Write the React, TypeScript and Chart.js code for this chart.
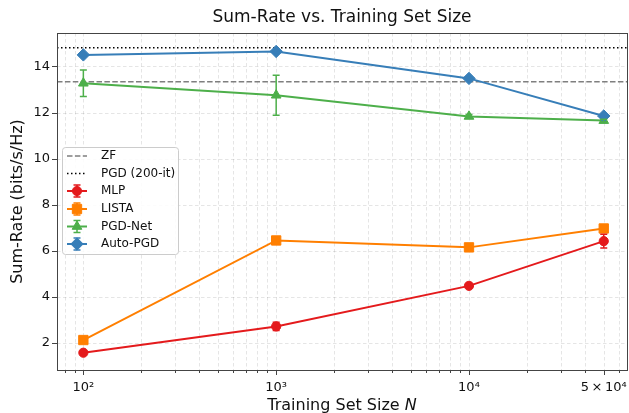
import React, { useEffect, useRef } from 'react';
import { Chart, registerables } from 'chart.js';
import { drawPoint } from 'chart.js/helpers';

Chart.register(...registerables);

// ---- data ----
const trainSizes = [100, 1000, 10000, 50000];
const mlpRate = [1.58, 2.72, 4.48, 6.42];
const mlpErr = [0.05, 0.18, 0.06, 0.3];
const listaRate = [2.13, 6.45, 6.15, 6.97];
const listaErr = [0.05, 0.08, 0.08, 0.1];
const pgdNetRate = [13.27, 12.75, 11.83, 11.65];
const pgdNetErr = [0.58, 0.87, 0.08, 0.06];
const autoPgdRate = [14.5, 14.65, 13.48, 11.85];
const autoPgdErr = [0.05, 0.05, 0.05, 0.05];
const zfRate = 13.33;
const pgd200Rate = 14.81;

const xMin = 73;
const xMax = 66000;
const yMin = 0.83;
const yMax = 15.45;
const yTicks = [2, 4, 6, 8, 10, 12, 14];
const xMajorTicks = [100, 1000, 10000, 50000];
const xMajorLabels = ['10²', '10³', '10⁴', '5\u2009×\u200910⁴'];
const xMinorTicks = [
  80, 90, 200, 300, 400, 500, 600, 700, 800, 900,
  2000, 3000, 4000, 5000, 6000, 7000, 8000, 9000,
  20000, 30000, 40000, 60000,
];

const FONT = "'DejaVu Sans', sans-serif";

const C_MLP = '#e41a1c';
const C_LISTA = '#ff7f00';
const C_PGDNET = '#4daf4a';
const C_AUTO = '#377eb8';

interface SeriesInfo {
  label: string;
  color: string;
  style: string;
  radius: number;
  values: number[];
  errs: number[];
}

const series: SeriesInfo[] = [
  { label: 'MLP', color: C_MLP, style: 'circle', radius: 4.6, values: mlpRate, errs: mlpErr },
  { label: 'LISTA', color: C_LISTA, style: 'rect', radius: 6.6, values: listaRate, errs: listaErr },
  { label: 'PGD-Net', color: C_PGDNET, style: 'triangle', radius: 5.6, values: pgdNetRate, errs: pgdNetErr },
  { label: 'Auto-PGD', color: C_AUTO, style: 'rectRot', radius: 6.2, values: autoPgdRate, errs: autoPgdErr },
];

const gridPlugin = {
  id: 'customGrid',
  beforeDatasetsDraw(chart: any) {
    const { ctx, chartArea: a, scales } = chart;
    const xs = scales.x;
    const ys = scales.y;
    ctx.save();
    ctx.lineWidth = 0.8;
    ctx.setLineDash([3.5, 2.5]);
    ctx.strokeStyle = 'rgba(0,0,0,0.13)';
    [...xMajorTicks, ...xMinorTicks].forEach((v) => {
      const px = Math.round(xs.getPixelForValue(v)) + 0.5;
      ctx.beginPath();
      ctx.moveTo(px, a.top);
      ctx.lineTo(px, a.bottom);
      ctx.stroke();
    });
    yTicks.forEach((v) => {
      const py = Math.round(ys.getPixelForValue(v)) + 0.5;
      ctx.beginPath();
      ctx.moveTo(a.left, py);
      ctx.lineTo(a.right, py);
      ctx.stroke();
    });
    ctx.restore();
  },
  afterDatasetsDraw(chart: any) {
    const { ctx, chartArea: a, scales } = chart;
    const xs = scales.x;
    const ys = scales.y;
    ctx.save();
    // error bars
    series.forEach((s) => {
      ctx.strokeStyle = s.color;
      ctx.lineWidth = 1.5;
      s.values.forEach((v, i) => {
        const px = xs.getPixelForValue(trainSizes[i]);
        const y1 = ys.getPixelForValue(v - s.errs[i]);
        const y2 = ys.getPixelForValue(v + s.errs[i]);
        ctx.beginPath();
        ctx.moveTo(px, y1);
        ctx.lineTo(px, y2);
        ctx.moveTo(px - 3.5, y1);
        ctx.lineTo(px + 3.5, y1);
        ctx.moveTo(px - 3.5, y2);
        ctx.lineTo(px + 3.5, y2);
        ctx.stroke();
      });
    });
    // frame
    ctx.strokeStyle = '#444';
    ctx.lineWidth = 1;
    ctx.strokeRect(Math.round(a.left) + 0.5, Math.round(a.top) + 0.5, Math.round(a.right - a.left), Math.round(a.bottom - a.top));
    // tick marks
    ctx.beginPath();
    xMajorTicks.forEach((v) => {
      const px = Math.round(xs.getPixelForValue(v)) + 0.5;
      ctx.moveTo(px, a.bottom);
      ctx.lineTo(px, a.bottom + 5);
    });
    xMinorTicks.forEach((v) => {
      const px = Math.round(xs.getPixelForValue(v)) + 0.5;
      ctx.moveTo(px, a.bottom);
      ctx.lineTo(px, a.bottom + 3);
    });
    yTicks.forEach((v) => {
      const py = Math.round(ys.getPixelForValue(v)) + 0.5;
      ctx.moveTo(a.left, py);
      ctx.lineTo(a.left - 5, py);
    });
    ctx.stroke();
    ctx.restore();
  },
  afterDraw(chart: any) {
    const { ctx, chartArea: a } = chart;
    const cx = (a.left + a.right) / 2;
    ctx.save();
    ctx.fillStyle = '#111';
    // title
    ctx.font = `17px ${FONT}`;
    ctx.textAlign = 'center';
    ctx.textBaseline = 'middle';
    ctx.fillText('Sum-Rate vs. Training Set Size', cx, 18);
    // x label
    ctx.font = `16px ${FONT}`;
    const t1 = 'Training Set Size ';
    const w1 = ctx.measureText(t1).width;
    ctx.font = `italic 16px ${FONT}`;
    const w2 = ctx.measureText('N').width;
    const start = cx - (w1 + w2) / 2;
    ctx.textAlign = 'left';
    ctx.font = `16px ${FONT}`;
    ctx.fillText(t1, start, 406);
    ctx.font = `italic 16px ${FONT}`;
    ctx.fillText('N', start + w1, 406);
    // y label
    ctx.save();
    ctx.translate(18, (a.top + a.bottom) / 2);
    ctx.rotate(-Math.PI / 2);
    ctx.textAlign = 'center';
    ctx.font = `16px ${FONT}`;
    ctx.fillText('Sum-Rate (bits/s/Hz)', 0, 0);
    ctx.restore();

    // legend
    const lx = 62.5, ly = 147.5, lw = 116, lh = 107;
    ctx.fillStyle = 'rgba(255,255,255,0.85)';
    ctx.strokeStyle = '#cccccc';
    ctx.lineWidth = 1;
    ctx.beginPath();
    (ctx as any).roundRect(lx, ly, lw, lh, 3);
    ctx.fill();
    ctx.stroke();
    const hx1 = 67, hx2 = 87, hmid = 77, tx = 101;
    const rows = [156, 173.5, 191, 209, 226.5, 244];
    ctx.font = `12px ${FONT}`;
    ctx.textAlign = 'left';
    ctx.textBaseline = 'middle';
    ctx.strokeStyle = '#7f7f7f';
    ctx.lineWidth = 1.5;
    ctx.setLineDash([5.5, 2.4]);
    ctx.beginPath();
    ctx.moveTo(hx1, rows[0]);
    ctx.lineTo(hx2, rows[0]);
    ctx.stroke();
    ctx.strokeStyle = '#000';
    ctx.setLineDash([1.5, 2.5]);
    ctx.beginPath();
    ctx.moveTo(hx1, rows[1]);
    ctx.lineTo(hx2, rows[1]);
    ctx.stroke();
    ctx.setLineDash([]);
    ctx.fillStyle = '#111';
    ctx.fillText('ZF', tx, rows[0]);
    ctx.fillText('PGD (200-it)', tx, rows[1]);
    series.forEach((s, i) => {
      const y = rows[i + 2];
      ctx.strokeStyle = s.color;
      ctx.lineWidth = 2;
      ctx.beginPath();
      ctx.moveTo(hx1, y);
      ctx.lineTo(hx2, y);
      ctx.stroke();
      ctx.lineWidth = 1.5;
      ctx.beginPath();
      ctx.moveTo(hmid, y - 6);
      ctx.lineTo(hmid, y + 6);
      ctx.moveTo(hmid - 3.5, y - 6);
      ctx.lineTo(hmid + 3.5, y - 6);
      ctx.moveTo(hmid - 3.5, y + 6);
      ctx.lineTo(hmid + 3.5, y + 6);
      ctx.stroke();
      ctx.fillStyle = s.color;
      ctx.strokeStyle = s.color;
      ctx.lineWidth = 1;
      drawPoint(ctx, { pointStyle: s.style, radius: s.radius, borderWidth: 1, rotation: 0 } as any, hmid, y);
      ctx.fillStyle = '#111';
      ctx.fillText(s.label, tx, y);
    });
    ctx.restore();
  },
};

export default function App() {
  const ref = useRef<HTMLCanvasElement | null>(null);
  useEffect(() => {
    document.body.style.margin = '0';
    if (!ref.current) return;
    const datasets: any[] = [
      {
        label: 'ZF',
        data: [{ x: xMin, y: zfRate }, { x: xMax, y: zfRate }],
        borderColor: '#7f7f7f',
        borderWidth: 1.5,
        borderDash: [5.5, 2.4],
        pointRadius: 0,
        order: 10,
      },
      {
        label: 'PGD (200-it)',
        data: [{ x: xMin, y: pgd200Rate }, { x: xMax, y: pgd200Rate }],
        borderColor: '#000',
        borderWidth: 1.5,
        borderDash: [1.5, 2.5],
        pointRadius: 0,
        order: 9,
      },
      ...series.map((s, i) => ({
        label: s.label,
        data: trainSizes.map((x, j) => ({ x, y: s.values[j] })),
        borderColor: s.color,
        backgroundColor: s.color,
        borderWidth: 2,
        pointStyle: s.style,
        pointRadius: s.radius,
        pointBorderWidth: 1,
        pointBorderColor: s.color,
        pointBackgroundColor: s.color,
        order: 8 - i,
      })),
    ];
    const chart = new Chart(ref.current, {
      type: 'line',
      data: { datasets },
      plugins: [gridPlugin],
      options: {
        responsive: false,
        animation: false,
        layout: { autoPadding: false, padding: { top: 33, right: 2, bottom: 0, left: 0 } },
        plugins: {
          legend: { display: false },
          title: { display: false },
          tooltip: { enabled: false },
        },
        scales: {
          x: {
            type: 'logarithmic',
            min: xMin,
            max: xMax,
            afterBuildTicks: (scale: any) => {
              scale.ticks = xMajorTicks.map((v) => ({ value: v }));
            },
            afterFit: (scale: any) => {
              scale.height = 43;
              scale.paddingLeft = 0;
              scale.paddingRight = 0;
            },
            grid: { display: true, drawOnChartArea: false, drawTicks: true, tickLength: 10, tickColor: 'rgba(0,0,0,0)', color: 'rgba(0,0,0,0)' },
            border: { display: false },
            ticks: {
              autoSkip: false,
              maxRotation: 0,
              padding: 0,
              color: '#111',
              font: { family: FONT, size: 13 },
              callback: (value: any) => {
                const idx = xMajorTicks.indexOf(Number(value));
                return idx >= 0 ? xMajorLabels[idx] : '';
              },
            },
          },
          y: {
            type: 'linear',
            min: yMin,
            max: yMax,
            afterBuildTicks: (scale: any) => {
              scale.ticks = yTicks.map((v) => ({ value: v }));
            },
            afterFit: (scale: any) => {
              scale.width = 57;
              scale.paddingTop = 0;
              scale.paddingBottom = 0;
            },
            grid: { display: true, drawOnChartArea: false, drawTicks: true, tickLength: 7, tickColor: 'rgba(0,0,0,0)', color: 'rgba(0,0,0,0)' },
            border: { display: false },
            ticks: {
              padding: 0,
              color: '#111',
              font: { family: FONT, size: 13 },
              callback: (value: any) => String(value),
            },
          },
        },
      } as any,
    });
    return () => chart.destroy();
  }, []);
  return (
    <div style={{ position: 'fixed', left: 0, top: 0, width: 629, height: 413, background: '#fff' }}>
      <canvas ref={ref} width={629} height={413} style={{ display: 'block', width: 629, height: 413 }} />
    </div>
  );
}
